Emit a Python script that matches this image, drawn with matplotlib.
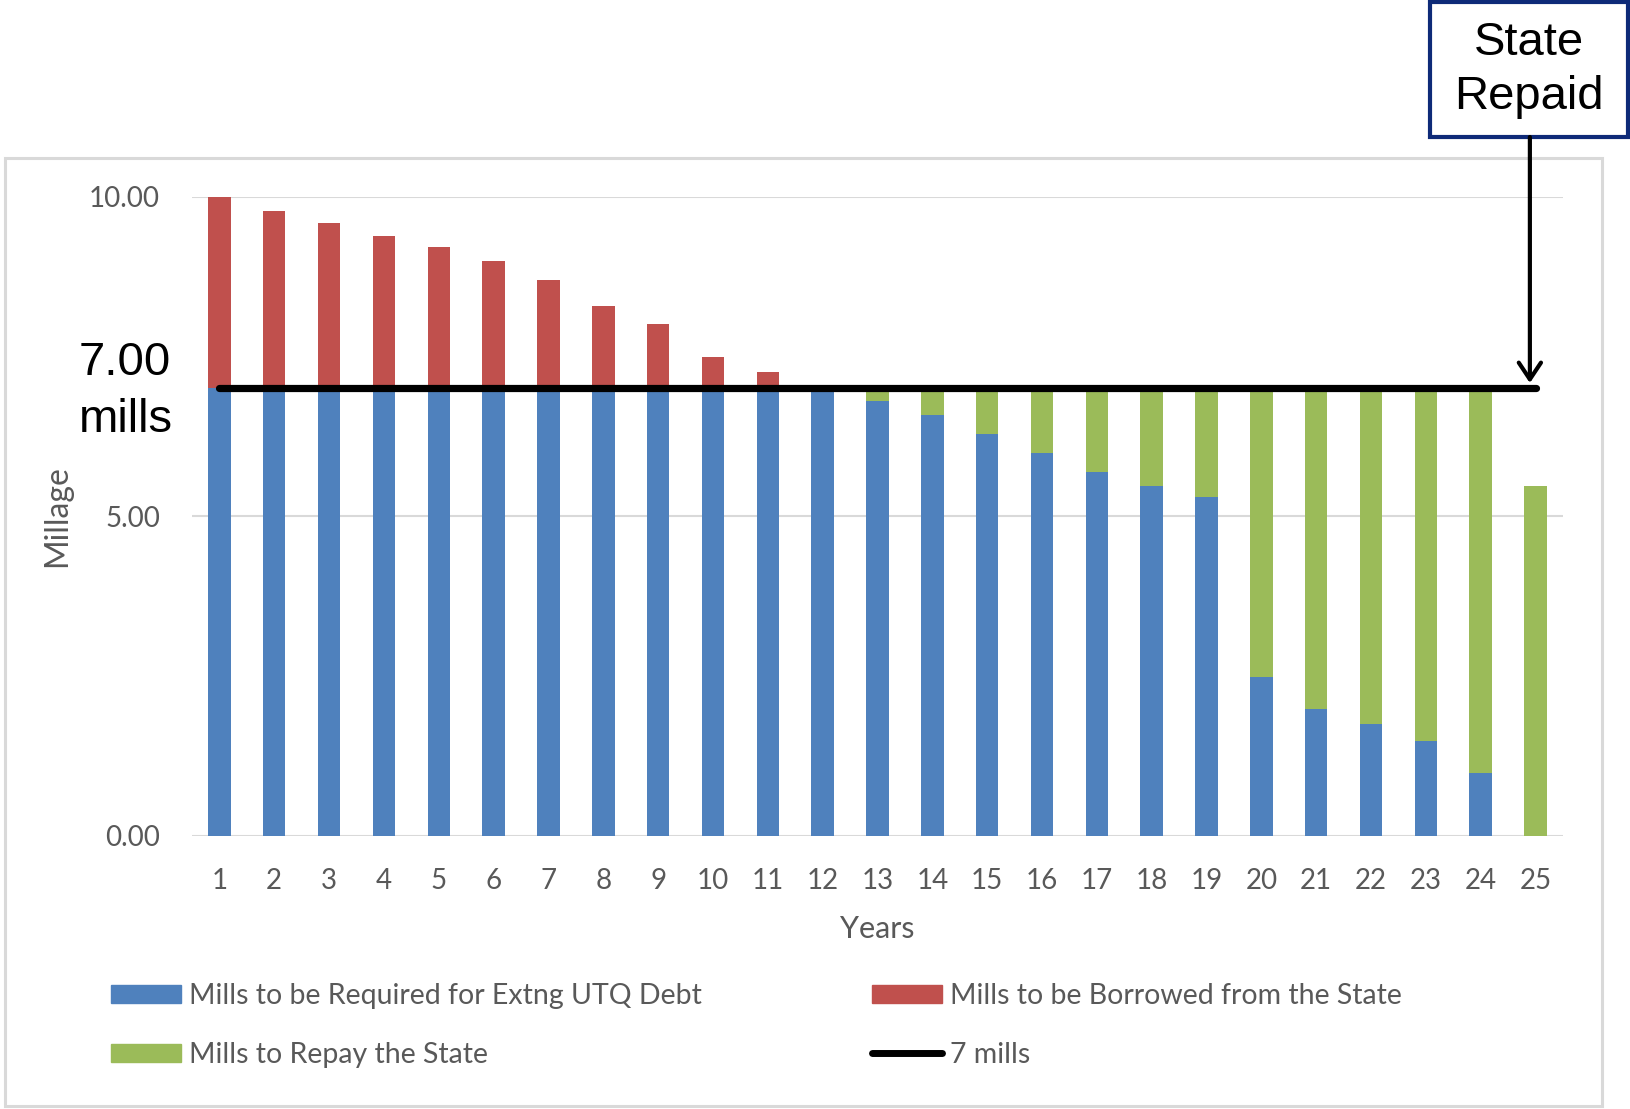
import matplotlib.pyplot as plt
from matplotlib.patches import Rectangle, FancyArrowPatch
from matplotlib.lines import Line2D

# data (millage per year)
years = list(range(1, 26))
extng_debt = [7.00, 7.00, 7.00, 7.00, 7.00, 7.00, 7.00, 7.00, 7.00, 7.00, 7.00, 7.00,
              6.80, 6.58, 6.29, 5.99, 5.70, 5.48, 5.30, 2.49, 1.98, 1.75, 1.48, 0.99, 0.00]
borrowed = [3.00, 2.78, 2.58, 2.39, 2.21, 1.99, 1.69, 1.29, 1.00, 0.49, 0.26, 0.00,
            0, 0, 0, 0, 0, 0, 0, 0, 0, 0, 0, 0, 0]
repay = [0, 0, 0, 0, 0, 0, 0, 0, 0, 0, 0, 0.00,
         0.20, 0.42, 0.71, 1.01, 1.30, 1.52, 1.70, 4.51, 5.02, 5.25, 5.52, 6.01, 5.48]
seven_mills = [7.0] * len(years)

yticks = [0, 5, 10]
ytick_labels = ['0.00', '5.00', '10.00']

blue = '#4F81BD'
red = '#C0504D'
green = '#9BBB59'
gray = '#595959'
font = 'Lato'

fig = plt.figure(figsize=(16.31, 11.09), dpi=100)
ax = fig.add_axes([0.1177, 0.2462, 0.8406, 0.5765])

w = 0.41
ax.bar(years, extng_debt, width=w, color=blue, zorder=2)
ax.bar(years, borrowed, width=w, bottom=extng_debt, color=red, zorder=2)
ax.bar(years, repay, width=w, bottom=extng_debt, color=green, zorder=2)
ax.plot(years, seven_mills, color='black', lw=5.2, solid_capstyle='round', zorder=3)

ax.set_xlim(0.5, 25.5)
ax.set_ylim(0, 10)
ax.set_yticks(yticks)
ax.set_yticklabels(ytick_labels)
ax.set_xticks(years)
ax.set_xticklabels([str(y) for y in years])
ax.tick_params(axis='y', length=0, pad=23, labelsize=20, labelcolor=gray)
ax.tick_params(axis='x', length=0, pad=23, labelsize=20, labelcolor=gray)
for lab in ax.get_xticklabels() + ax.get_yticklabels():
    lab.set_family(font)
ax.grid(axis='y', color='#D9D9D9', lw=1.5, zorder=0)
for s in ax.spines.values():
    s.set_visible(False)

ax.set_xlabel('Years', fontsize=22, color=gray, family=font)
ax.xaxis.set_label_coords(0.5, -0.1455)
ax.xaxis.label.set_va('center')
ax.set_ylabel('Millage', fontsize=23, color=gray, family=font)
ax.yaxis.set_label_coords(-0.0985, 0.5)
ax.yaxis.label.set_va('center')

# legends, one per column
h1 = [Rectangle((0, 0), 1, 1, color=blue), Rectangle((0, 0), 1, 1, color=green)]
h2 = [Rectangle((0, 0), 1, 1, color=red),
      Line2D([], [], color='black', lw=5, solid_capstyle='round')]
common = dict(frameon=False, handlelength=2.45, handleheight=0.6,
              handletextpad=0.3, labelspacing=1.15, borderpad=0, borderaxespad=0,
              loc='center left', bbox_transform=fig.transFigure,
              prop={'family': font, 'size': 20.5})
leg1 = fig.legend(h1, ['Mills to be Required for Extng UTQ Debt', 'Mills to Repay the State'],
                  bbox_to_anchor=(0.0681, 0.0755), **common)
leg2 = fig.legend(h2, ['Mills to be Borrowed from the State', '7 mills'],
                  bbox_to_anchor=(0.5346, 0.0755), **common)
for leg in (leg1, leg2):
    for t in leg.get_texts():
        t.set_color(gray)

# chart border
fig.patches.append(Rectangle((0.003, 0.0027), 0.979, 0.855, transform=fig.transFigure,
                             fill=False, ec='#D9D9D9', lw=2.2))

# annotations
fig.text(0.0484, 0.647, '7.00\nmills', fontsize=34, family='Liberation Sans',
         ha='left', va='center', linespacing=1.38)
fig.patches.append(Rectangle((0.8768, 0.8765), 0.1214, 0.1217, transform=fig.transFigure,
                             fill=False, ec='#0E2A78', lw=3))
fig.text(0.9375, 0.9369, 'State\nRepaid', fontsize=34, family='Liberation Sans',
         ha='center', va='center', linespacing=1.3)
fig.patches.append(FancyArrowPatch((0.938, 0.8765), (0.938, 0.6546), transform=fig.transFigure,
                                   arrowstyle='->,head_length=0.6,head_width=0.4',
                                   mutation_scale=20, lw=3, color='black',
                                   shrinkA=0, shrinkB=0))

fig.savefig('out.png', dpi=100)
